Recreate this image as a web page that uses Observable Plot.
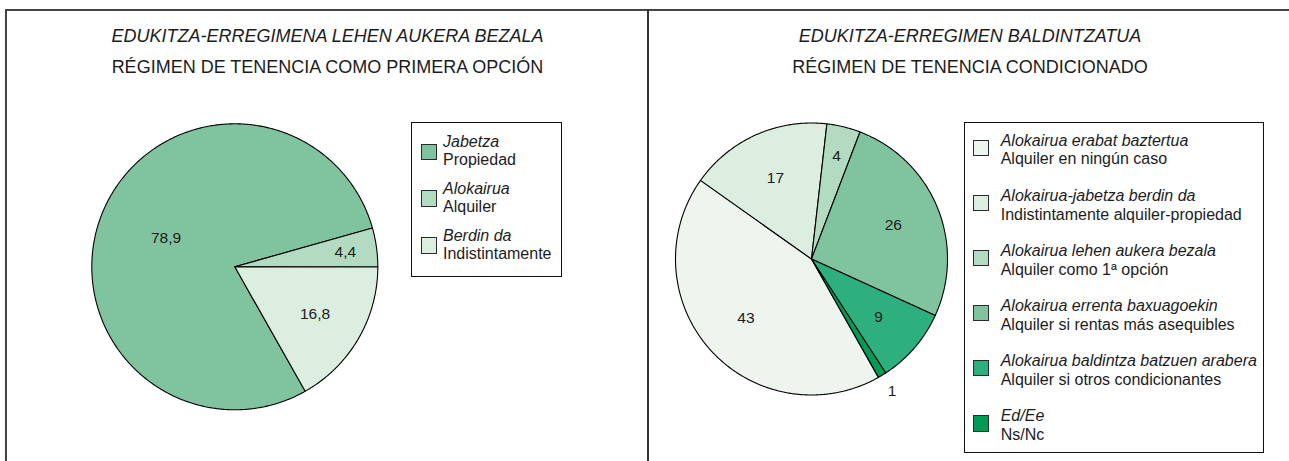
<!DOCTYPE html>
<html>
<head>
<meta charset="utf-8">
<script src="https://cdn.jsdelivr.net/npm/d3@7"></script>
<script src="https://cdn.jsdelivr.net/npm/@observablehq/plot@0.6"></script>
<style>
  html, body { margin: 0; padding: 0; background: #fff; }
  body { font-family: "Liberation Sans", Arial, sans-serif; color: #222; }
  #wrap { position: relative; width: 1289px; height: 461px; overflow: hidden; background: #fff; }
  .abs { position: absolute; }
  .title { position: absolute; text-align: center; font-size: 18px; line-height: 20px; white-space: nowrap; color: #1c1c1c; }
  .it { font-style: italic; }
  .legbox { position: absolute; border: 1.3px solid #111; box-sizing: border-box; background: #fff; }
  .sw { position: absolute; width: 16.5px; height: 16.5px; box-sizing: border-box; border: 1.6px solid #2a2a2a; }
  .lt { position: absolute; font-size: 16px; line-height: 18px; white-space: nowrap; color: #1c1c1c; }
  .line { position: absolute; background: #444; }
</style>
</head>
<body>
<div id="wrap"></div>
<script>
// ---------- data ----------
const leftCategoriesEu = ["Jabetza", "Alokairua", "Berdin da"];
const leftCategoriesEs = ["Propiedad", "Alquiler", "Indistintamente"];
const leftValues = [78.9, 4.4, 16.8];

const rightCategoriesEu = [
  "Alokairua erabat baztertua",
  "Alokairua-jabetza berdin da",
  "Alokairua lehen aukera bezala",
  "Alokairua errenta baxuagoekin",
  "Alokairua baldintza batzuen arabera",
  "Ed/Ee"
];
const rightCategoriesEs = [
  "Alquiler en ningún caso",
  "Indistintamente alquiler-propiedad",
  "Alquiler como 1ª opción",
  "Alquiler si rentas más asequibles",
  "Alquiler si otros condicionantes",
  "Ns/Nc"
];
const rightValues = [43, 17, 4, 26, 9, 1];

const leftTitles = ["EDUKITZA-ERREGIMENA LEHEN AUKERA BEZALA", "RÉGIMEN DE TENENCIA COMO PRIMERA OPCIÓN"];
const rightTitles = ["EDUKITZA-ERREGIMEN BALDINTZATUA", "RÉGIMEN DE TENENCIA CONDICIONADO"];

// ---------- styles ----------
const leftColors = ["#80c49f", "#b3dbc1", "#dceee0"];
const rightColors = ["#edf5ee", "#dceee0", "#b3dbc1", "#80c49f", "#2db07d", "#009b55"];
const START = (60.5 + 90) * Math.PI / 180; // d3.pie angle (clockwise from 12 o'clock)
const FONT = "Liberation Sans, Arial, sans-serif";

const fmt = v => String(v).replace(".", ",");

function pieGeometry(cats, values) {
  const arcs = d3.pie().sort(null).startAngle(START).endAngle(START + 2 * Math.PI)(values);
  const pts = [];
  const labels = [];
  arcs.forEach((a, i) => {
    const n = Math.max(2, Math.ceil((a.endAngle - a.startAngle) / (Math.PI / 360)));
    pts.push({cat: cats[i], x: 0, y: 0});
    for (let k = 0; k <= n; k++) {
      const t = a.startAngle + (a.endAngle - a.startAngle) * k / n;
      pts.push({cat: cats[i], x: Math.sin(t), y: -Math.cos(t)});
    }
    pts.push({cat: cats[i], x: 0, y: 0});
    const v = values[i];
    const rf = v > 50 ? 0.52 : v < 2 ? 1.14 : v < 6 ? 0.78 : 0.65;
    const m = (a.startAngle + a.endAngle) / 2;
    labels.push({cat: cats[i], x: rf * Math.sin(m), y: -rf * Math.cos(m), text: fmt(v)});
  });
  return {pts, labels};
}

function piePlot({cats, values, colors, width, cx, cy, r}) {
  const {pts, labels} = pieGeometry(cats, values);
  return Plot.plot({
    width, height: 461,
    margin: 0,
    style: {background: "transparent", fontFamily: FONT, overflow: "visible"},
    x: {domain: [-1, 1], range: [cx - r, cx + r], axis: null},
    y: {domain: [-1, 1], range: [cy - r, cy + r], axis: null},
    color: {domain: cats, range: colors},
    marks: [
      Plot.line(pts, {x: "x", y: "y", z: "cat", fill: "cat", stroke: "#000", strokeWidth: 1.1, strokeLinejoin: "round"}),
      Plot.text(labels, {x: "x", y: "y", text: "text", fontSize: 15.5, fill: "#1c1c1c", fontFamily: FONT})
    ]
  });
}

// ---------- layout ----------
const wrap = document.getElementById("wrap");
function el(cls, css, html) {
  const d = document.createElement("div");
  d.className = cls;
  Object.assign(d.style, css);
  if (html != null) d.innerHTML = html;
  wrap.appendChild(d);
  return d;
}

// pies
const leftSvg = piePlot({cats: leftCategoriesEu, values: leftValues, colors: leftColors, width: 645, cx: 234.3, cy: 266.3, r: 143});
leftSvg.style.position = "absolute"; leftSvg.style.left = "0px"; leftSvg.style.top = "0px";
wrap.appendChild(leftSvg);

const rightSvg = piePlot({cats: rightCategoriesEu, values: rightValues, colors: rightColors, width: 644, cx: 811 - 645, cy: 258.5, r: 136});
rightSvg.style.position = "absolute"; rightSvg.style.left = "645px"; rightSvg.style.top = "0px";
wrap.appendChild(rightSvg);

// titles
el("title it", {left: "6px", width: "643px", top: "25.5px"}, leftTitles[0]);
el("title", {left: "6px", width: "643px", top: "56.5px"}, leftTitles[1]);
el("title it", {left: "650px", width: "640px", top: "25.5px"}, rightTitles[0]);
el("title", {left: "650px", width: "640px", top: "56.5px"}, rightTitles[1]);

// legends
function legend({eu, es, colors, box, swX, txtX, swTop0, swStep, base1Off, lineGap}) {
  el("legbox", {left: box[0] + "px", top: box[1] + "px", width: (box[2] - box[0]) + "px", height: (box[3] - box[1]) + "px"});
  eu.forEach((name, i) => {
    const top = swTop0 + i * swStep;
    el("sw", {left: swX + "px", top: top + "px", background: colors[i]});
    const b1 = top + base1Off;
    el("lt it", {left: txtX + "px", top: (b1 - 14.54) + "px"}, name);
    el("lt", {left: txtX + "px", top: (b1 + lineGap - 14.54) + "px"}, es[i]);
  });
}
legend({eu: leftCategoriesEu, es: leftCategoriesEs, colors: leftColors,
  box: [411.4, 122.3, 562.3, 277], swX: 420.8, txtX: 443, swTop0: 143.5, swStep: 46.9, base1Off: 4, lineGap: 18.5});
legend({eu: rightCategoriesEu, es: rightCategoriesEs, colors: rightColors,
  box: [964.3, 122.3, 1264, 453.3], swX: 972.7, txtX: 1000.7, swTop0: 139.5, swStep: 55.1, base1Off: 7, lineGap: 18.5});

// frame lines
el("line", {left: "5px", top: "9px", width: "1284px", height: "2px"});
el("line", {left: "5px", top: "9px", width: "2px", height: "452px"});
el("line", {left: "647px", top: "9px", width: "1.6px", height: "452px", background: "#333"});
</script>
</body>
</html>
